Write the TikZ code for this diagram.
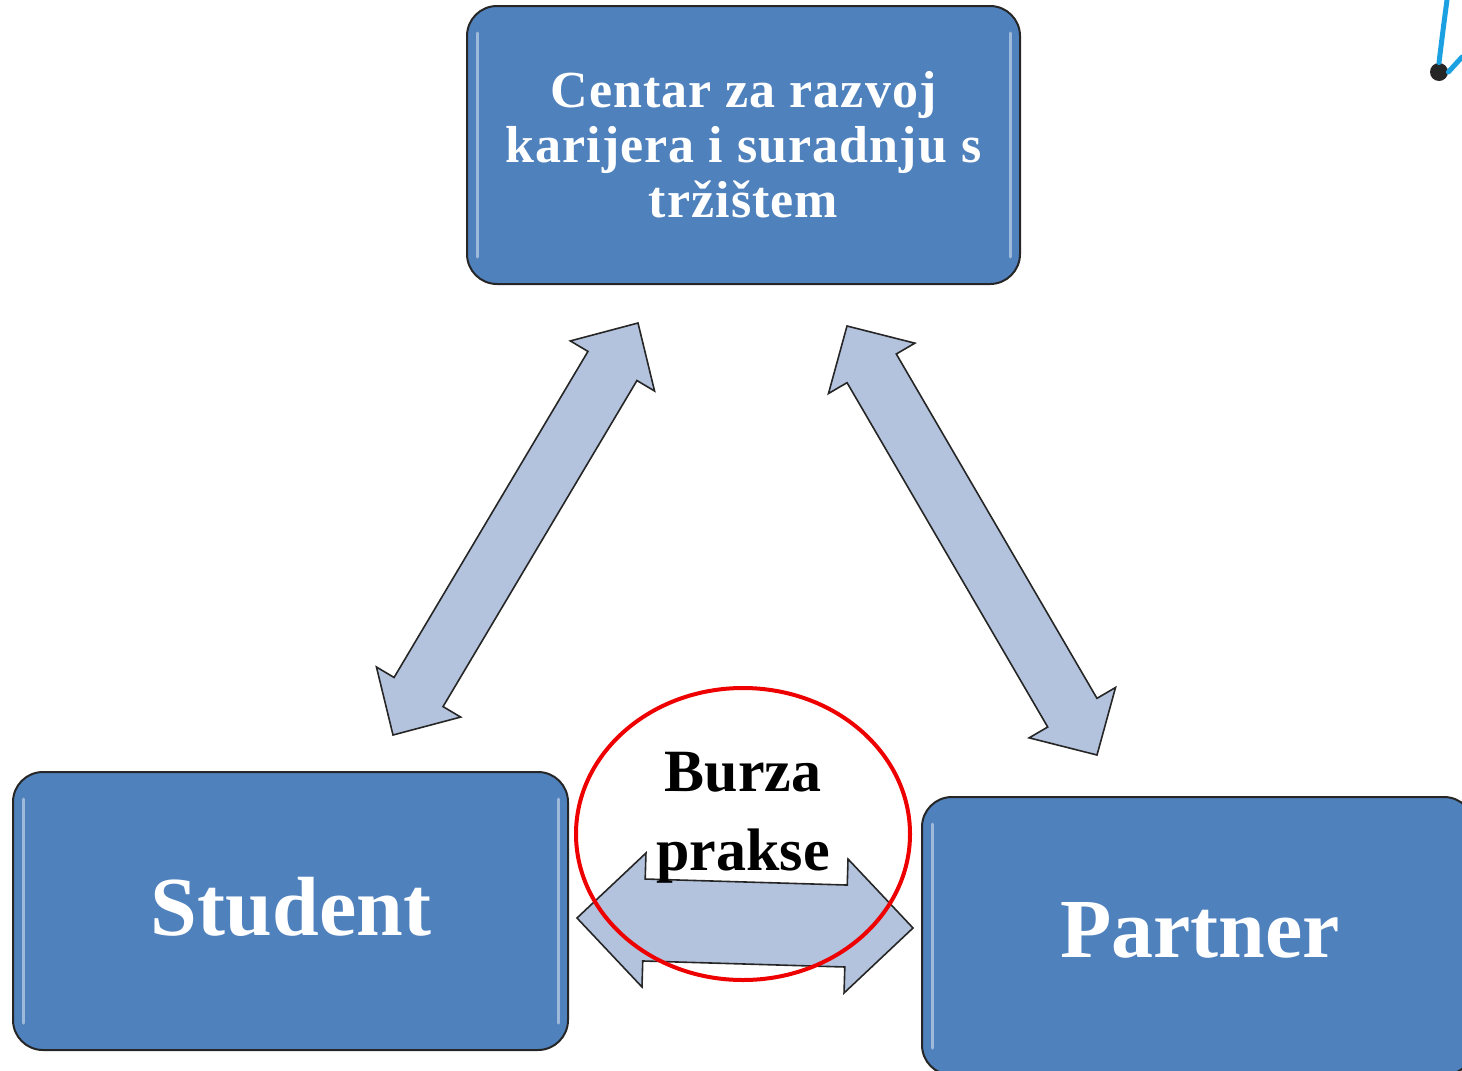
\documentclass[tikz,border=0pt]{standalone}
\usepackage{fontspec}
\setmainfont{Liberation Serif}
\newfontfamily\spacedserif[LetterSpace=2]{Liberation Serif}
\usetikzlibrary{calc,shapes.geometric}
\definecolor{boxblue}{HTML}{4F81BD}
\definecolor{arrowfill}{HTML}{B3C3DD}
\definecolor{penblue}{HTML}{1BA1E2}
\definecolor{ringred}{HTML}{EE0000}
\newcommand{\blockarrow}[5]{%
  \coordinate (#1h) at ($(#1)!#3!(#2)$);
  \coordinate (#2h) at ($(#2)!#3!(#1)$);
  \draw[arrowstyle] (#1) -- ($(#1h)!#4!90:(#2)$) -- ($(#1h)!#5!90:(#2)$)
    -- ($(#2h)!#5!-90:(#1)$) -- ($(#2h)!#4!-90:(#1)$) -- (#2)
    -- ($(#2h)!#4!90:(#1)$) -- ($(#2h)!#5!90:(#1)$)
    -- ($(#1h)!#5!-90:(#2)$) -- ($(#1h)!#4!-90:(#2)$) -- cycle;
}
\begin{document}
\begin{tikzpicture}[x=0.5pt,y=-0.5pt,
  box/.style={draw=black!85, line width=1pt, fill=boxblue, rounded corners=15pt,
    text=white, align=center, inner sep=0pt},
  shine/.style={draw=white, opacity=0.45, line width=1.5pt, line cap=round},
  arrowstyle/.style={draw=black!85, line width=0.8pt, fill=arrowfill, line join=miter},
  bigword/.style={font=\fontsize{42}{46}\selectfont\bfseries, text=white}]
\useasboundingbox (0,0) rectangle (1462,1071);
\clip (0,0) rectangle (1462,1071);

% boxes
\node[box, minimum width=276.5pt, minimum height=139pt,
  font=\spacedserif\fontsize{26}{27.5}\selectfont\bfseries] (centar) at (743.5,145)
  {Centar za razvoj\\karijera i suradnju s\\tržištem};
\node[box, minimum width=277.5pt, minimum height=139pt] (student) at (290.5,911) {};
\node[bigword] (studentlbl) at (291,907) {Student};
\node[box, minimum width=276pt, minimum height=139pt] (partner) at (1198,936) {};
\node[bigword] (partnerlbl) at (1200,930) {Partner};

% glossy edges
\foreach \b in {centar,student,partner}{
  \draw[shine] ($(\b.north west)+(11,28)$) -- ($(\b.south west)+(11,-28)$);
  \draw[shine] ($(\b.north east)+(-11,28)$) -- ($(\b.south east)+(-11,-28)$);
}

% block arrows
\coordinate (la) at (393,735);
\coordinate (lb) at (638,323);
\blockarrow{la}{lb}{25pt}{24.5pt}{14.25pt}
\coordinate (ra) at (847,326);
\coordinate (rb) at (1097,755);
\blockarrow{ra}{rb}{24.5pt}{25pt}{14.25pt}
\coordinate (ha) at (577,918);
\coordinate (hb) at (913,928);
\blockarrow{ha}{hb}{33.5pt}{33.5pt}{20.5pt}

% Burza prakse
\node[font=\fontsize{30}{39.5}\selectfont\bfseries, align=center, text=black] (burzalbl) at (743,818) {Burza\\prakse};
\node[draw=ringred, line width=2pt, ellipse, minimum width=167pt, minimum height=146pt, inner sep=0pt] (burza) at (743,834) {};

% pen mark top right
\node[circle, fill=black!85, minimum size=9pt, inner sep=0pt] (dot) at (1439,72) {};
\coordinate (penA) at (1447,0);
\coordinate (penB) at (1462,57);
\draw[penblue, line width=2.5pt, line cap=round] (penA) .. controls (1443,30) .. (dot.north);
\draw[penblue, line width=2.5pt, line cap=round] (dot.east) -- (penB);
\end{tikzpicture}
\end{document}
